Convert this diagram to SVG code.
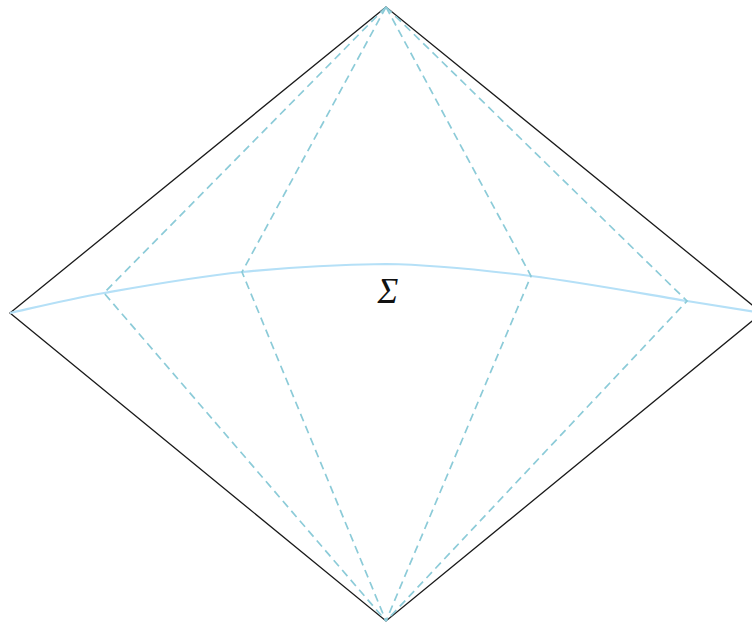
<svg xmlns="http://www.w3.org/2000/svg" width="752" height="626" viewBox="0 0 752 626">
<style>
.frame{fill:none;stroke:#1a1a1a;stroke-width:1.3;stroke-linejoin:miter}
.sigma{fill:none;stroke:#b5e0f7;stroke-width:2.2}
.null{fill:none;stroke:#8ccbd8;stroke-width:1.7;stroke-dasharray:8 5}
.lbl{font-family:"Liberation Serif","DejaVu Serif",serif;font-style:italic;font-size:35px;fill:#111}
</style>
<rect width="752" height="626" fill="#ffffff"/>
<g id="diamond">
<path class="frame" d="M386,7 L10,313 L386,621 L762,313 Z"/>
</g>
<g id="surface">
<path class="sigma" d="M10,313 C25.7,309.7 65.3,299.8 104,293 C142.7,286.2 195,276.8 242,272 C289,267.2 337.8,264.7 386,264 C434.2,264.7 480.8,269.8 531,276 C581.2,282.2 650.2,295 687,301 C723.8,307 748,311 762,313"/>
</g>
<g id="connectors">
<path class="null" d="M386,7 L104,293 L386,621"/>
<path class="null" d="M386,7 L242,272 L386,621"/>
<path class="null" d="M386,7 L531,276 L386,621"/>
<path class="null" d="M386,7 L687,301 L386,621"/>
</g>
<g id="label">
<text class="lbl" x="388" y="303" text-anchor="middle">Σ</text>
</g>
</svg>
